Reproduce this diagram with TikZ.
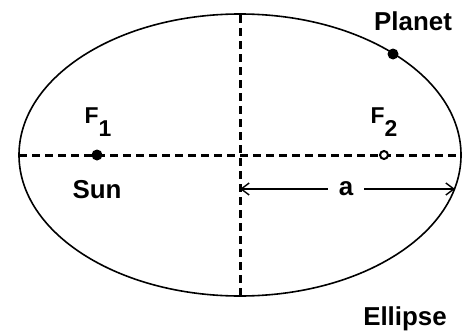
\documentclass[tikz,border=0pt]{standalone}
\usepackage{fontspec}
\setmainfont{Liberation Sans}
\usetikzlibrary{arrows.meta}

\begin{document}
\begin{tikzpicture}[x=1bp,y=1bp,
  axis/.style={black,line width=3bp,dash pattern=on 8bp off 5bp},
  lbl/.style={font=\fontsize{26}{26}\selectfont\bfseries,inner sep=0pt,anchor=base},
  sub/.style={font=\fontsize{23}{23}\selectfont\bfseries,inner sep=0pt,anchor=base}]
\useasboundingbox (0,0) rectangle (471,331);
\coordinate (O) at (240,176);
\coordinate (L) at (19,176);
\coordinate (R) at (461,176);
\coordinate (T) at (240,316);
\coordinate (B) at (240,35);
\coordinate (F1) at (97,176);
\coordinate (F2) at (384,176);
\coordinate (P) at (393,277);
\coordinate (aL) at (240,142);
\coordinate (aR) at (455,142);
\draw[line width=1.6bp] (O) ellipse [x radius=221, y radius=141];
\draw[axis] (L)--(R);
\draw[axis] (T)--(B);
\node (a) [lbl,anchor=center,inner xsep=11bp] at (346,142) {a};
\draw[line width=1.4bp,-{Straight Barb[length=8bp,width=12bp]}] (a)--(aL);
\draw[line width=1.4bp,-{Straight Barb[length=8bp,width=12bp]}] (a)--(aR);
\fill (F1) circle [radius=5.5];
\draw[line width=2bp,fill=white] (F2) circle [radius=4];
\fill (P) circle [radius=5.5];
\node (f1) [sub] at (98,208) {F\raisebox{-0.6em}{1}};
\node (f2) [sub] at (384,208) {F\raisebox{-0.6em}{2}};
\node (planet) [lbl] at (413,301) {Planet};
\node (sun) [lbl] at (97,133) {Sun};
\node (ellipse) [lbl] at (405,6) {Ellipse};
\end{tikzpicture}
\end{document}
